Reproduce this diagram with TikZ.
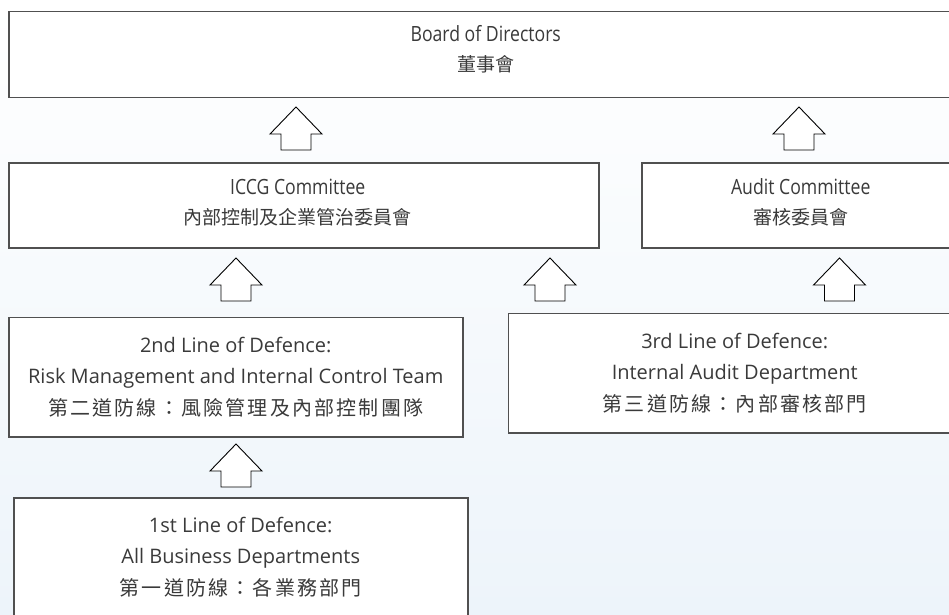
\documentclass[tikz,border=0pt]{standalone}
\usepackage{fontspec}
\setmainfont{Open Sans}
\newfontfamily\cjk{Noto Sans CJK TC}
\newfontfamily\cjkwide{Noto Sans CJK TC}[LetterSpace=11]
\newfontfamily\narrow{Open Sans}[FakeStretch=0.84]
\definecolor{boxgray}{HTML}{505050}
\definecolor{inkgray}{HTML}{3A3A3A}
\definecolor{paleblue}{HTML}{EDF4FA}

\begin{document}
\begin{tikzpicture}[x=1pt,y=-1pt,
  box/.style={rectangle, draw=boxgray, line width=1.5pt, fill=white, text=inkgray, align=center, inner sep=0pt, anchor=north west},
  toptext/.style={text=inkgray, align=center, inner sep=0pt, font=\fontsize{21}{30}\selectfont\narrow},
  lowrow/.style={box, font=\fontsize{20}{31.5}\selectfont},
  uparrow/.pic={\draw[line width=0.9pt, fill=white] (-15,0) -- (-15,-16) -- (-26,-16) -- (0,-43) -- (26,-16) -- (15,-16) -- (15,0) -- cycle;}
]
  \useasboundingbox (0,0) rectangle (949,614);
  \shade[top color=white, bottom color=paleblue] (0,0) rectangle (949,614);

  % top row
  \node[box, minimum width=954, minimum height=86] (Board) at (8,10.5) {};
  \node[toptext] (BoardText) at ([yshift=5pt]Board.center)
    {Board of Directors\\{\fontsize{19}{30}\selectfont\cjk 董事會}};
  % committees
  \node[box, minimum width=590, minimum height=85] (ICCG) at (8,162) {};
  \node[toptext] (ICCGText) at ([xshift=-6pt,yshift=3pt]ICCG.center)
    {ICCG Committee\\{\fontsize{19}{30}\selectfont\cjk 內部控制及企業管治委員會}};
  \node[box, minimum width=318, minimum height=85] (Audit) at (641,162) {};
  \node[toptext] (AuditText) at ([yshift=3pt]Audit.center)
    {Audit Committee\\{\fontsize{19}{30}\selectfont\cjk 審核委員會}};
  % lines of defence
  \node[lowrow, minimum width=454, minimum height=119.5] (Second) at (8,316.5)
    {2nd Line of Defence:\\Risk Management and Internal Control Team\\{\cjkwide 第二道防線：風險管理及內部控制團隊}};
  \node[lowrow, minimum width=453, minimum height=119.5] (Third) at (507.5,312.5)
    {3rd Line of Defence:\\Internal Audit Department\\{\cjkwide 第三道防線：內部審核部門}};
  \node[lowrow, minimum width=454, minimum height=118] (First) at (13,497)
    {1st Line of Defence:\\All Business Departments\\{\cjkwide 第一道防線：各業務部門}};

  % block arrows
  \pic at (296,150) {uparrow};
  \pic at (799,150) {uparrow};
  \pic at (236,301) {uparrow};
  \pic at (550,301) {uparrow};
  \pic at (839.5,301) {uparrow};
  \pic at (236,487) {uparrow};
\end{tikzpicture}
\end{document}
